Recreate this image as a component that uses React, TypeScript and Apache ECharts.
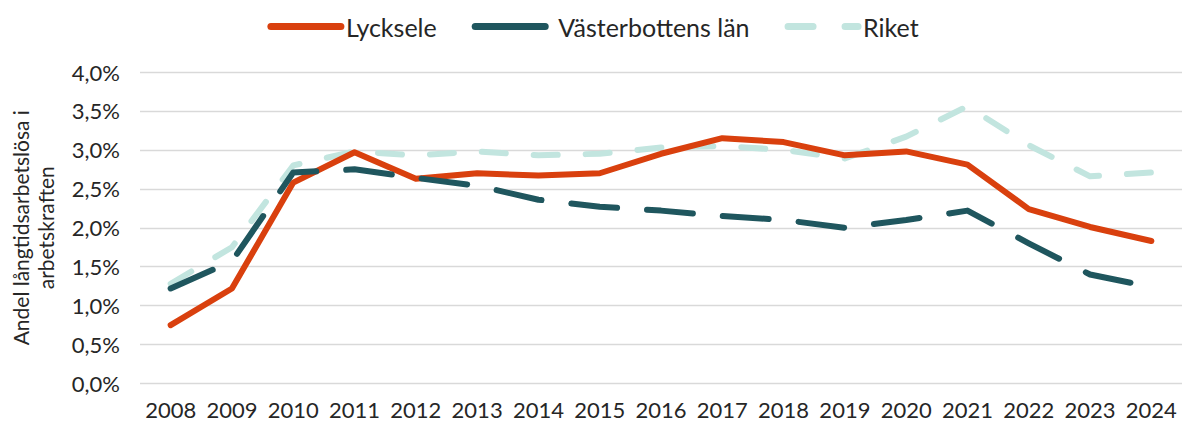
import React, { useEffect, useRef } from "react";
import * as echarts from "echarts";

const years = ["2008","2009","2010","2011","2012","2013","2014","2015","2016","2017","2018","2019","2020","2021","2022","2023","2024"];
const lycksele = [0.75,1.22,2.58,2.97,2.63,2.70,2.67,2.70,2.95,3.15,3.10,2.93,2.98,2.81,2.24,2.01,1.83];
const vasterbotten = [1.22,1.57,2.71,2.75,2.64,2.54,2.36,2.27,2.22,2.15,2.10,2.00,2.10,2.22,1.80,1.40,1.24];
const riket = [1.28,1.75,2.80,2.98,2.93,2.98,2.93,2.95,3.03,3.05,3.00,2.89,3.17,3.56,3.06,2.66,2.71];

const FONT = "Lato, 'Open Sans', sans-serif";

export default function App() {
  const ref = useRef<HTMLDivElement>(null);
  useEffect(() => {
    document.body.style.margin = "0";
    const chart = echarts.init(ref.current!, undefined, { renderer: "svg" });
    chart.setOption({
      animation: false,
      textStyle: { fontFamily: FONT },
      legend: {
        top: 9,
        left: "center",
        itemWidth: 70,
        itemHeight: 14,
        itemGap: 35,
        itemStyle: { opacity: 0 },
        lineStyle: { width: 7, cap: "round" },
        textStyle: { fontSize: 25, color: "#262626", fontFamily: FONT },
        data: [
          { name: "Lycksele" },
          { name: "Västerbottens län", lineStyle: { type: "solid", width: 7, cap: "round" }, textStyle: { padding: [0, 0, 0, 8] } },
          { name: "Riket", lineStyle: { type: [25, 32], width: 7, cap: "round" } },
        ],
      },
      grid: { left: 138, right: 4, top: 72, bottom: 39.5, containLabel: false },
      xAxis: {
        type: "category",
        data: years,
        boundaryGap: true,
        axisLine: { show: false },
        axisTick: { show: false },
        axisLabel: { interval: 0, fontSize: 22, color: "#262626", margin: 15, fontFamily: FONT },
      },
      yAxis: {
        type: "value",
        min: 0,
        max: 4,
        interval: 0.5,
        name: "Andel långtidsarbetslösa i\narbetskraften",
        nameLocation: "middle",
        nameGap: 82,
        nameTextStyle: { fontSize: 21, color: "#262626", lineHeight: 25, fontFamily: FONT },
        axisLabel: {
          fontSize: 22,
          color: "#262626",
          margin: 20,
          fontFamily: FONT,
          formatter: (v: number) => v.toFixed(1).replace(".", ",") + "%",
        },
        splitLine: { lineStyle: { color: "#d9d9d9", width: 1.3 } },
      },
      series: [
        {
          name: "Lycksele",
          type: "line",
          data: lycksele,
          symbol: "none",
          z: 3,
          lineStyle: { color: "#D9400E", width: 6, cap: "round", join: "round" },
          itemStyle: { color: "#D9400E" },
        },
        {
          name: "Västerbottens län",
          type: "line",
          data: vasterbotten,
          symbol: "none",
          z: 4,
          lineStyle: { color: "#1F565E", width: 6, type: [46, 30], cap: "round", join: "round" },
          itemStyle: { color: "#1F565E" },
        },
        {
          name: "Riket",
          type: "line",
          data: riket,
          symbol: "none",
          z: 2,
          lineStyle: { color: "#C2E5DF", width: 6, type: [24, 28], cap: "round", join: "round" },
          itemStyle: { color: "#C2E5DF" },
        },
      ],
    });
    return () => chart.dispose();
  }, []);
  return <div ref={ref} style={{ width: 1186, height: 423 }} />;
}
